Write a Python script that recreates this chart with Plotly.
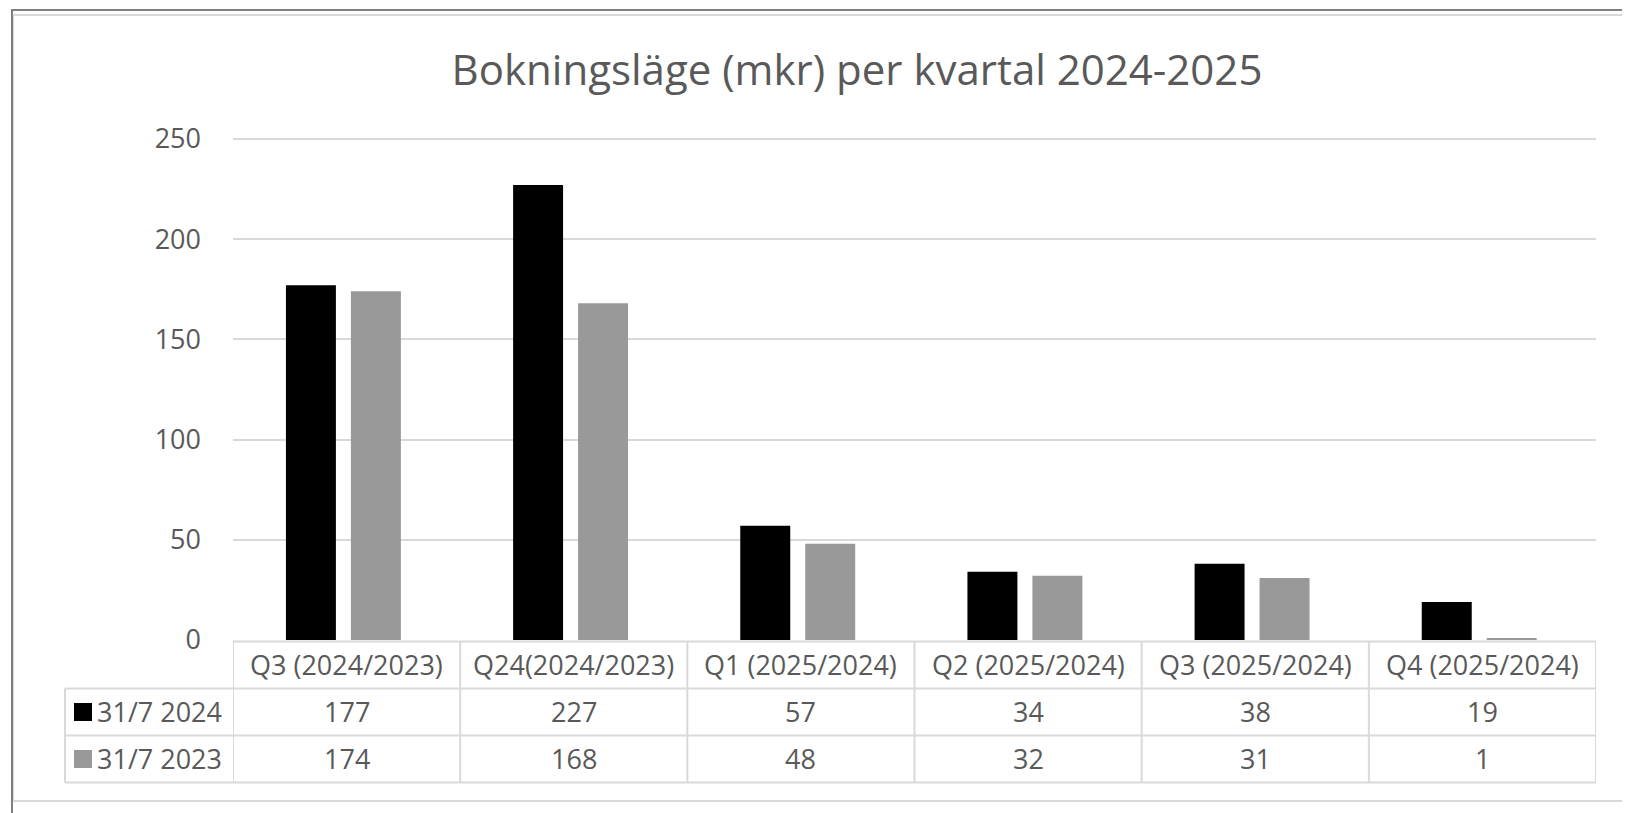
import plotly.graph_objects as go

# ---- data ----
categories = ["Q3 (2024/2023)", "Q24(2024/2023)", "Q1 (2025/2024)",
              "Q2 (2025/2024)", "Q3 (2025/2024)", "Q4 (2025/2024)"]
series_names = ["31/7 2024", "31/7 2023"]
values_2024 = [177, 227, 57, 34, 38, 19]
values_2023 = [174, 168, 48, 32, 31, 1]
y_ticks = [0, 50, 100, 150, 200, 250]
title_text = "Bokningsläge (mkr) per kvartal 2024-2025"

# ---- styling ----
colors = ["#000000", "#999999"]
bar_offsets = [-0.267, 0.019]   # in category units, relative to category centre
bar_width = 0.22
TXT = "#595959"
GRID = "#d9d9d9"
FONT = "Open Sans"
OFF = 8                    # page body margin
FIG_W, FIG_H = 1630 - OFF, 813 - OFF
L, R = 233 - OFF, 1596 - OFF      # plot area pixel x-range (figure coords)
Y250, B0 = 139 - OFF, 640 - OFF   # pixel y of 250 and of 0
YMAX = 251
W = R - L
H_unit = (B0 - Y250) / 250.0
T = B0 - YMAX * H_unit
H = B0 - T


def px(x):
    return (x - OFF - L) / W


def py(y):
    return (B0 - (y - OFF)) / H


fig = go.Figure()
for name, vals, col, off in zip(series_names, [values_2024, values_2023], colors, bar_offsets):
    fig.add_trace(go.Bar(x=list(range(len(categories))), y=vals, name=name,
                         offset=off, width=bar_width,
                         marker=dict(color=col, line=dict(width=0)),
                         hoverinfo="skip"))

shapes = []
annotations = []

# table row boundaries (reference pixel y)
hdr_top, row1_top, row2_top, tbl_bot = 641.5, 688.5, 735.5, 782.5
legend_left = 65
line = dict(color=GRID, width=2)
n = len(categories)
FS = 27

# horizontal lines
shapes.append(dict(type="line", xref="x", yref="paper", x0=-0.5, x1=n - 0.5,
                   y0=py(hdr_top), y1=py(hdr_top), line=line))
for yy in (row1_top, row2_top, tbl_bot):
    shapes.append(dict(type="line", xref="paper", yref="paper", x0=px(legend_left), x1=1,
                       y0=py(yy), y1=py(yy), line=line))
# vertical lines
shapes.append(dict(type="line", xref="paper", yref="paper", x0=px(legend_left), x1=px(legend_left),
                   y0=py(row1_top), y1=py(tbl_bot), line=line))
for i in range(n + 1):
    shapes.append(dict(type="line", xref="x", yref="paper", x0=i - 0.5, x1=i - 0.5,
                       y0=py(hdr_top), y1=py(tbl_bot), line=line))

# header labels
for i, c in enumerate(categories):
    annotations.append(dict(x=i, xref="x", y=py((hdr_top + row1_top) / 2), yref="paper",
                            text=c, showarrow=False, xanchor="center", yanchor="middle",
                            font=dict(family=FONT, size=FS, color=TXT)))
# values + legend cells
row_centers = [(row1_top + row2_top) / 2, (row2_top + tbl_bot) / 2]
for r, (name, vals, col) in enumerate(zip(series_names, [values_2024, values_2023], colors)):
    yc = row_centers[r]
    for i, v in enumerate(vals):
        annotations.append(dict(x=i, xref="x", y=py(yc), yref="paper", text=str(v),
                                showarrow=False, xanchor="center", yanchor="middle",
                                font=dict(family=FONT, size=FS, color=TXT)))
    shapes.append(dict(type="rect", xref="paper", yref="paper", x0=px(74), x1=px(92),
                       y0=py(yc - 9), y1=py(yc + 9), fillcolor=col, line=dict(width=0)))
    annotations.append(dict(x=px(95), xref="paper", y=py(yc), yref="paper", text=name,
                            showarrow=False, xanchor="left", yanchor="middle",
                            font=dict(family=FONT, size=FS, color=TXT)))

# outer frame
shapes.append(dict(type="rect", xref="paper", yref="paper", x0=px(13), x1=px(1629),
                   y0=py(15), y1=py(801), line=dict(color=GRID, width=2), layer="below"))
shapes.append(dict(type="line", xref="paper", yref="paper", x0=px(11), x1=px(1640),
                   y0=py(10), y1=py(10), line=dict(color="#7f7f7f", width=2)))
shapes.append(dict(type="line", xref="paper", yref="paper", x0=px(12), x1=px(12),
                   y0=py(10), y1=py(825), line=dict(color="#7f7f7f", width=2)))

fig.update_layout(
    width=FIG_W, height=FIG_H,
    margin=dict(l=L, r=FIG_W - R, t=T, b=FIG_H - B0, pad=0),
    paper_bgcolor="white", plot_bgcolor="white",
    barmode="overlay",
    showlegend=False,
    title=dict(text=title_text, x=(857 - OFF) / FIG_W, xanchor="center", xref="container",
               y=1 - (70 - OFF) / FIG_H, yanchor="middle",
               font=dict(family=FONT, size=42, color=TXT)),
    xaxis=dict(range=[-0.5, n - 0.5], showticklabels=False, showgrid=False,
               zeroline=False, showline=False, ticks=""),
    yaxis=dict(range=[0, YMAX], tickvals=y_ticks, showgrid=True, gridcolor=GRID, gridwidth=2,
               zeroline=False, showline=False, ticks="", ticklabelstandoff=31,
               tickfont=dict(family=FONT, size=FS, color=TXT)),
    shapes=shapes, annotations=annotations,
)

fig.write_html("out.html")
